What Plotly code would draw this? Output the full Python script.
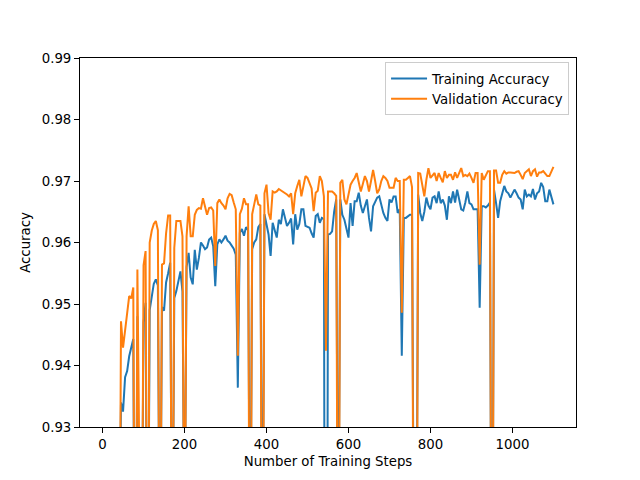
import plotly.graph_objects as go

# training steps (logged every 5 steps)
steps = list(range(0, 1101, 5))

train_acc = [
    0.10, 0.35, 0.60, 0.75, 0.82, 0.86, 0.88, 0.89, 0.90, 0.9340,
    0.9325, 0.9381, 0.9391, 0.9415, 0.9430, 0.9443, 0.88, 0.9480, 0.89, 0.90,
    0.9470, 0.9502, 0.89, 0.9490, 0.9516, 0.9533, 0.9540, 0.9530, 0.90, 0.9495,
    0.9489, 0.9535, 0.9550, 0.9567, 0.90, 0.9510, 0.9521, 0.9540, 0.9553, 0.9520,
    0.91, 0.9560, 0.9583, 0.9543, 0.9532, 0.9588, 0.9556, 0.9575, 0.9600, 0.9595,
    0.9589, 0.9592, 0.9605, 0.9608, 0.9594, 0.9529, 0.9597, 0.9605, 0.9600, 0.9605,
    0.9611, 0.9603, 0.9600, 0.9595, 0.9590, 0.9580, 0.9364, 0.9616, 0.9622, 0.9611,
    0.9625, 0.9620, 0.90, 0.9589, 0.9600, 0.9605, 0.9625, 0.9630, 0.90, 0.9646,
    0.9630, 0.9613, 0.9578, 0.9632, 0.9620, 0.9608, 0.9637, 0.9630, 0.9654, 0.9640,
    0.9627, 0.9632, 0.9639, 0.9597, 0.9646, 0.9621, 0.9630, 0.9654, 0.9654, 0.9627,
    0.9625, 0.9624, 0.9615, 0.9608, 0.9643, 0.9646, 0.9632, 0.9640, 0.9638, 0.80,
    0.9613, 0.9614, 0.9618, 0.9650, 0.9670, 0.90, 0.9670, 0.9645, 0.9637, 0.9621,
    0.9608, 0.9664, 0.9627, 0.9667, 0.9667, 0.9681, 0.9660, 0.9648, 0.9660, 0.9670,
    0.9640, 0.9618, 0.9659, 0.9665, 0.9673, 0.9675, 0.9660, 0.9648, 0.9640, 0.9635,
    0.9670, 0.9665, 0.9675, 0.9675, 0.9648, 0.9654, 0.9416, 0.9640, 0.9640, 0.9642,
    0.9645, 0.9645, 0.90, 0.89, 0.9678, 0.9648, 0.9635, 0.9650, 0.9673, 0.9660,
    0.9654, 0.9673, 0.9675, 0.9664, 0.9683, 0.9664, 0.9670, 0.9660, 0.9637, 0.9675,
    0.9664, 0.9683, 0.9665, 0.9686, 0.9670, 0.9654, 0.9652, 0.9665, 0.9683, 0.9664,
    0.9662, 0.9654, 0.9654, 0.9654, 0.9494, 0.9659, 0.9659, 0.9657, 0.9660, 0.9665,
    0.88, 0.9686, 0.9664, 0.9640, 0.9667, 0.9680, 0.9692, 0.9683, 0.9680, 0.9673,
    0.9680, 0.9686, 0.9680, 0.9673, 0.9670, 0.9654, 0.9686, 0.9675, 0.9678, 0.9675,
    0.9687, 0.9670, 0.9680, 0.9683, 0.9697, 0.9690, 0.9667, 0.9667, 0.9686, 0.9675,
    0.9662,
]

val_acc = [
    0.05, 0.30, 0.55, 0.70, 0.78, 0.83, 0.86, 0.87, 0.88, 0.9472,
    0.9429, 0.9460, 0.9490, 0.9513, 0.9509, 0.9527, 0.87, 0.9556, 0.88, 0.89,
    0.9563, 0.9586, 0.88, 0.9600, 0.9619, 0.9630, 0.9635, 0.9620, 0.89, 0.9564,
    0.9566, 0.9615, 0.9644, 0.9644, 0.89, 0.9591, 0.9635, 0.9635, 0.9635, 0.9610,
    0.90, 0.9610, 0.9659, 0.9610, 0.9610, 0.9645, 0.9653, 0.9656, 0.9655, 0.9672,
    0.9660, 0.9645, 0.9656, 0.9657, 0.9652, 0.9562, 0.9664, 0.9670, 0.9664, 0.9660,
    0.9654, 0.9672, 0.9679, 0.9677, 0.9665, 0.9654, 0.9416, 0.9646, 0.9655, 0.9672,
    0.9662, 0.9662, 0.88, 0.9646, 0.9662, 0.9678, 0.9662, 0.9660, 0.88, 0.9680,
    0.9694, 0.9648, 0.9637, 0.9683, 0.9681, 0.9683, 0.9687, 0.9685, 0.9683, 0.9681,
    0.9678, 0.9675, 0.9680, 0.9646, 0.9680, 0.9692, 0.9702, 0.9675, 0.9690, 0.9708,
    0.9705, 0.9697, 0.9688, 0.9651, 0.9681, 0.9684, 0.9708, 0.9700, 0.9675, 0.9424,
    0.9683, 0.9683, 0.9683, 0.9680, 0.9676, 0.88, 0.9697, 0.9702, 0.9670, 0.9662,
    0.9680, 0.9694, 0.9700, 0.9705, 0.9713, 0.9700, 0.9683, 0.9695, 0.9708, 0.9700,
    0.9683, 0.9700, 0.9718, 0.9700, 0.9680, 0.9686, 0.9700, 0.9708, 0.9705, 0.9700,
    0.9689, 0.9689, 0.9689, 0.9705, 0.9700, 0.9700, 0.9486, 0.9702, 0.9702, 0.9705,
    0.9708, 0.9690, 0.88, 0.87, 0.9713, 0.9712, 0.9690, 0.9675, 0.9702, 0.9721,
    0.9705, 0.9710, 0.9713, 0.9700, 0.9713, 0.9705, 0.9698, 0.9716, 0.9705, 0.9710,
    0.9710, 0.9702, 0.9714, 0.9705, 0.9712, 0.9721, 0.9708, 0.9710, 0.9708, 0.9712,
    0.9705, 0.9697, 0.9713, 0.9713, 0.9564, 0.9713, 0.9702, 0.9708, 0.9716, 0.9716,
    0.87, 0.9717, 0.9717, 0.9697, 0.9697, 0.9710, 0.9716, 0.9712, 0.9714, 0.9714,
    0.9713, 0.9713, 0.9715, 0.9716, 0.9710, 0.9703, 0.9713, 0.9716, 0.9719, 0.9708,
    0.9716, 0.9719, 0.9707, 0.9714, 0.9714, 0.9716, 0.9712, 0.9708, 0.9708, 0.9715,
    0.9723,
]

y_ticks = [0.93, 0.94, 0.95, 0.96, 0.97, 0.98, 0.99]
x_ticks = [0, 200, 400, 600, 800, 1000]

fig = go.Figure()
fig.add_trace(go.Scatter(x=steps, y=train_acc, mode="lines", name="Training Accuracy",
                         line=dict(color="#1f77b4", width=2)))
fig.add_trace(go.Scatter(x=steps, y=val_acc, mode="lines", name="Validation Accuracy",
                         line=dict(color="#ff7f0e", width=2)))

axis_style = dict(showline=True, linecolor="black", linewidth=1, mirror=True,
                  ticks="outside", ticklen=5, tickcolor="black", showgrid=False,
                  zeroline=False, automargin=False,
                  tickfont=dict(family="DejaVu Sans", size=13.3, color="black"))

fig.update_layout(
    width=640, height=480,
    margin=dict(l=80, r=64, t=58, b=53),
    plot_bgcolor="white", paper_bgcolor="white",
    font=dict(family="DejaVu Sans", size=13.3, color="black"),
    xaxis=dict(range=[-55, 1155], tickvals=x_ticks,
               title=dict(text="Number of Training Steps", standoff=5,
                          font=dict(family="DejaVu Sans", size=13.3, color="black")),
               **axis_style),
    yaxis=dict(range=[0.93, 0.99], tickvals=y_ticks, tickformat=".2f",
               title=dict(text="Accuracy", standoff=8,
                          font=dict(family="DejaVu Sans", size=13.3, color="black")),
               **axis_style),
    legend=dict(x=0.986, y=0.988, xanchor="right", yanchor="top",
                bgcolor="white", bordercolor="#cccccc", borderwidth=1,
                font=dict(family="DejaVu Sans", size=13.3, color="black"),
                tracegroupgap=0, itemwidth=36),
    showlegend=True,
)

# page body has a default 8px margin; remove it so the figure sits at the window origin
fig.write_html("out.html", config={"displayModeBar": False},
               post_script="document.body.style.margin='0';")
